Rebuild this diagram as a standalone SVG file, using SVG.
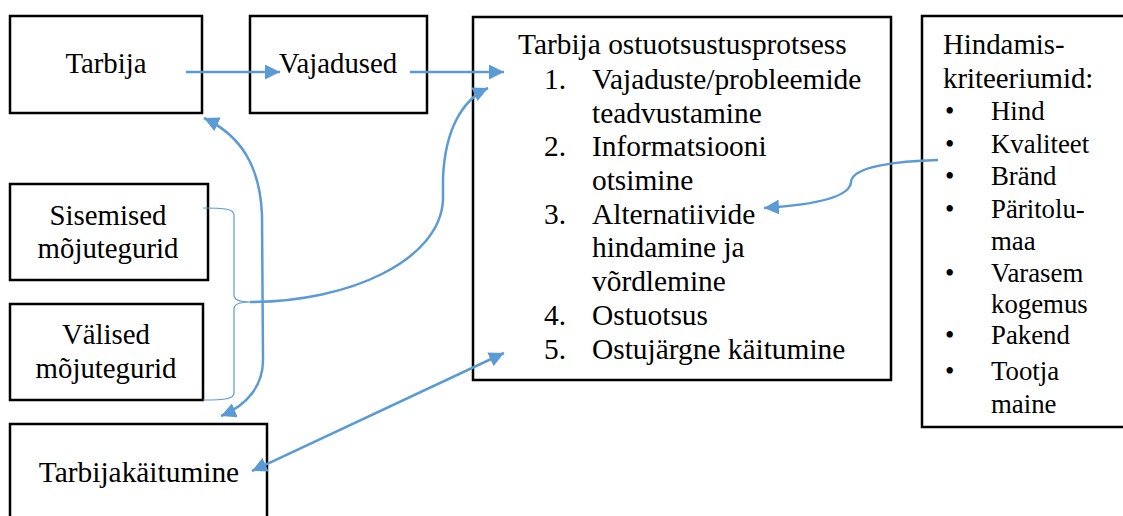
<svg xmlns="http://www.w3.org/2000/svg" width="1123" height="516" viewBox="0 0 1123 516">
<defs>
<marker id="ah" viewBox="0 0 10 10" refX="10" refY="5" markerWidth="6" markerHeight="6" markerUnits="strokeWidth" orient="auto-start-reverse">
<path d="M0,0 L10,5 L0,10 z" fill="#5B9BD5"/>
</marker>
<style>
.box{fill:#fff;stroke:#000;stroke-width:2.5}
.c{stroke:#5B9BD5;stroke-width:2.5;fill:none}
.br{stroke:#5B9BD5;stroke-width:1.2;fill:none}
</style>
</defs>
<rect width="1123" height="516" fill="#fff"/>
<g font-family="Liberation Serif" font-size="28.8" fill="#000">
<g id="n-tarbija"><rect class="box" x="10" y="16" width="192" height="97"/><text x="106" y="73" text-anchor="middle">Tarbija</text></g>
<g id="n-vajadused"><rect class="box" x="250" y="16" width="177" height="97"/><text x="338" y="73" text-anchor="middle">Vajadused</text></g>
<g id="n-sisemised"><rect class="box" x="10" y="184" width="198" height="96"/><text x="108" y="225" text-anchor="middle">Sisemised</text><text x="108" y="258" text-anchor="middle">mõjutegurid</text></g>
<g id="n-valised"><rect class="box" x="10" y="304" width="193" height="96"/><text x="106" y="344" text-anchor="middle">Välised</text><text x="106" y="378" text-anchor="middle">mõjutegurid</text></g>
<g id="n-tarbijakaitumine"><rect class="box" x="10" y="424" width="257" height="110"/><text x="139" y="482" text-anchor="middle" font-size="29.4">Tarbijakäitumine</text></g>
<g id="n-protsess" font-size="29.4"><rect class="box" x="473" y="17" width="418" height="363"/>
<text x="518" y="54">Tarbija ostuotsustusprotsess</text>
<text x="544" y="89">1.</text><text x="592" y="89">Vajaduste/probleemide</text>
<text x="592" y="123">teadvustamine</text>
<text x="544" y="156">2.</text><text x="592" y="156">Informatsiooni</text>
<text x="592" y="190">otsimine</text>
<text x="544" y="224">3.</text><text x="592" y="224">Alternatiivide</text>
<text x="592" y="257">hindamine ja</text>
<text x="592" y="291">võrdlemine</text>
<text x="544" y="325">4.</text><text x="592" y="325">Ostuotsus</text>
<text x="544" y="359">5.</text><text x="592" y="359">Ostujärgne käitumine</text>
</g>
<g id="n-hindamis"><rect class="box" x="922" y="16" width="210" height="411"/>
<text x="943" y="54">Hindamis-</text>
<text x="943" y="88">kriteeriumid:</text>
<g font-size="26.8">
<text x="945" y="120">•</text><text x="991" y="120">Hind</text>
<text x="945" y="153">•</text><text x="991" y="153">Kvaliteet</text>
<text x="945" y="185">•</text><text x="991" y="185">Bränd</text>
<text x="945" y="218">•</text><text x="991" y="218">Päritolu-</text>
<text x="991" y="250">maa</text>
<text x="945" y="282">•</text><text x="991" y="282">Varasem</text>
<text x="991" y="313">kogemus</text>
<text x="945" y="344">•</text><text x="991" y="344">Pakend</text>
<text x="945" y="380">•</text><text x="991" y="380">Tootja</text>
<text x="991" y="413">maine</text>
</g>
</g>
</g>
<g id="connectors">
<path class="c" d="M186,72 L280,72" marker-end="url(#ah)"/>
<path class="c" d="M410,72 L504,72" marker-end="url(#ah)"/>
<path class="c" d="M250,302 C350,302 440,260 443,200 L443,178 C445,130 462,100 488,88" marker-end="url(#ah)"/>
<path class="c" d="M204,118 C240,135 260,165 262,215 L263,360 C263,385 248,405 221,416" marker-start="url(#ah)" marker-end="url(#ah)"/>
<path class="br" d="M203,208 C225,208 234,209 234,215 L234,295 C234,300 240,302 250,302 C240,302 234,304 234,309 L234,393 C234,399 225,400 203,400"/>
<path class="c" d="M252,471 L504,353" marker-start="url(#ah)" marker-end="url(#ah)"/>
<path class="c" d="M938,160 C900,161 852,166 851,182 C850,198 812,205 764,208" marker-end="url(#ah)"/>
</g>
</svg>
